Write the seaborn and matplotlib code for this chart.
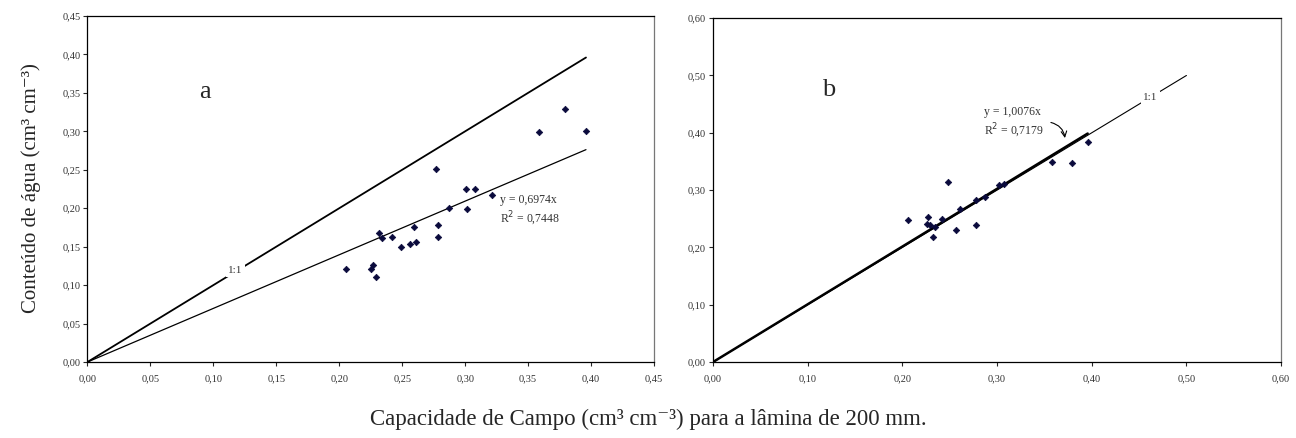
import numpy as np
import pandas as pd
import matplotlib
matplotlib.use('Agg')
import matplotlib.pyplot as plt
import seaborn as sns

# capacidade de campo vs conteudo de agua, lamina 200 mm
cc_a = [0.2056, 0.2255, 0.2268, 0.2295, 0.2316, 0.234, 0.242, 0.2488, 0.256, 0.259, 0.261,
        0.277, 0.2785, 0.2785, 0.287, 0.3005, 0.3018, 0.3079, 0.3214, 0.3585, 0.379, 0.396]
agua_a = [0.121, 0.1205, 0.126, 0.110, 0.168, 0.161, 0.163, 0.1495, 0.154, 0.1755, 0.156,
          0.2514, 0.1777, 0.163, 0.1998, 0.225, 0.199, 0.225, 0.2167, 0.2987, 0.3286, 0.301]

cc_b = [0.2059, 0.227, 0.2257, 0.2295, 0.234, 0.232, 0.2418, 0.2485, 0.2566, 0.2612,
        0.278, 0.278, 0.2869, 0.3017, 0.3076, 0.358, 0.3788, 0.3957]
agua_b = [0.2473, 0.253, 0.2408, 0.2396, 0.2356, 0.2187, 0.2496, 0.3136, 0.2304, 0.2665,
          0.2827, 0.2385, 0.288, 0.309, 0.310, 0.3496, 0.3473, 0.384]

slope_a, r2_a = 0.6974, 0.7448
slope_b, r2_b = 1.0076, 0.7179

sns.set_style('white')
plt.rcParams['font.family'] = ['Liberation Serif', 'DejaVu Serif']

fig = plt.figure(figsize=(12.96, 4.38), dpi=100)
ax1 = fig.add_axes([0.0675, 0.1735, 0.4371, 0.790])
ax2 = fig.add_axes([0.5502, 0.1735, 0.4383, 0.785])

mcolor = '#0a0a3c'
tcolor = '#333333'

# ---- painel a
df_a = pd.DataFrame({'cc': cc_a, 'agua': agua_a})
xa = np.array([0, max(cc_a)])
sns.lineplot(x=xa, y=xa, ax=ax1, color='black', lw=1.3)
sns.lineplot(x=xa, y=slope_a * xa, ax=ax1, color='black', lw=0.9)
sns.scatterplot(data=df_a, x='cc', y='agua', ax=ax1, marker='D', s=11,
                color=mcolor, edgecolor=mcolor, linewidth=0.5, zorder=3)
ax1.text(0.1177, 0.1196, '1:1', fontsize=8, ha='center', va='center', color=tcolor,
         bbox=dict(facecolor='white', edgecolor='none', pad=1.5))
ax1.text(0.328, 0.196, 'y = 0,6974x\nR$^2$ = 0,7448', fontsize=8.5, ha='left', va='center',
         color=tcolor, linespacing=1.3)
ax1.text(0.089, 0.351, 'a', fontsize=19, ha='left', va='center')
ax1.set_xlim(0, 0.45)
ax1.set_ylim(0, 0.45)
ax1.set_xticks(np.arange(0, 0.451, 0.05))
ax1.set_yticks(np.arange(0, 0.451, 0.05))

# ---- painel b
df_b = pd.DataFrame({'cc': cc_b, 'agua': agua_b})
xb = np.array([0, max(cc_b)])
x11 = np.array([0, 0.5])
sns.lineplot(x=x11, y=x11, ax=ax2, color='black', lw=0.8)
sns.lineplot(x=xb, y=slope_b * xb, ax=ax2, color='black', lw=1.8)
sns.scatterplot(data=df_b, x='cc', y='agua', ax=ax2, marker='D', s=11,
                color=mcolor, edgecolor=mcolor, linewidth=0.5, zorder=3)
ax2.text(0.462, 0.462, '1:1', fontsize=8, ha='center', va='center', color=tcolor,
         bbox=dict(facecolor='white', edgecolor='none', pad=1.5))
ax2.text(0.2865, 0.417, 'y = 1,0076x\nR$^2$ = 0,7179', fontsize=8.5, ha='left', va='center',
         color=tcolor, linespacing=1.3)
ax2.annotate('', xy=(0.372, 0.386), xytext=(0.354, 0.419),
             arrowprops=dict(arrowstyle='->', color='black', lw=0.8,
                             connectionstyle='arc3,rad=-0.4'))
ax2.text(0.115, 0.475, 'b', fontsize=19, ha='left', va='center')
ax2.set_xlim(0, 0.6)
ax2.set_ylim(0, 0.6)
ax2.set_xticks(np.arange(0, 0.601, 0.1))
ax2.set_yticks(np.arange(0, 0.601, 0.1))

fmt = matplotlib.ticker.FuncFormatter(lambda v, p: f'{v:.2f}'.replace('.', ','))
for ax in (ax1, ax2):
    ax.set_xlabel('')
    ax.set_ylabel('')
    ax.xaxis.set_major_formatter(fmt)
    ax.yaxis.set_major_formatter(fmt)
    ax.tick_params(axis='both', direction='out', length=3, width=0.8, labelsize=7.5,
                   labelcolor=tcolor, bottom=True, left=True)
    ax.tick_params(axis='x', pad=6)
    ax.tick_params(axis='y', pad=2)
    for s in ax.spines.values():
        s.set_color('black')
        s.set_linewidth(0.9)
    ax.spines['right'].set_color('#777777')

fig.text(0.024, 0.57, 'Conteúdo de água (cm³ cm⁻³)', rotation=90, fontsize=15,
         ha='center', va='center')
fig.text(0.5, 0.042, 'Capacidade de Campo (cm³ cm⁻³) para a lâmina de 200 mm.', fontsize=16.5,
         ha='center', va='center')

fig.savefig('out.png', dpi=100)
